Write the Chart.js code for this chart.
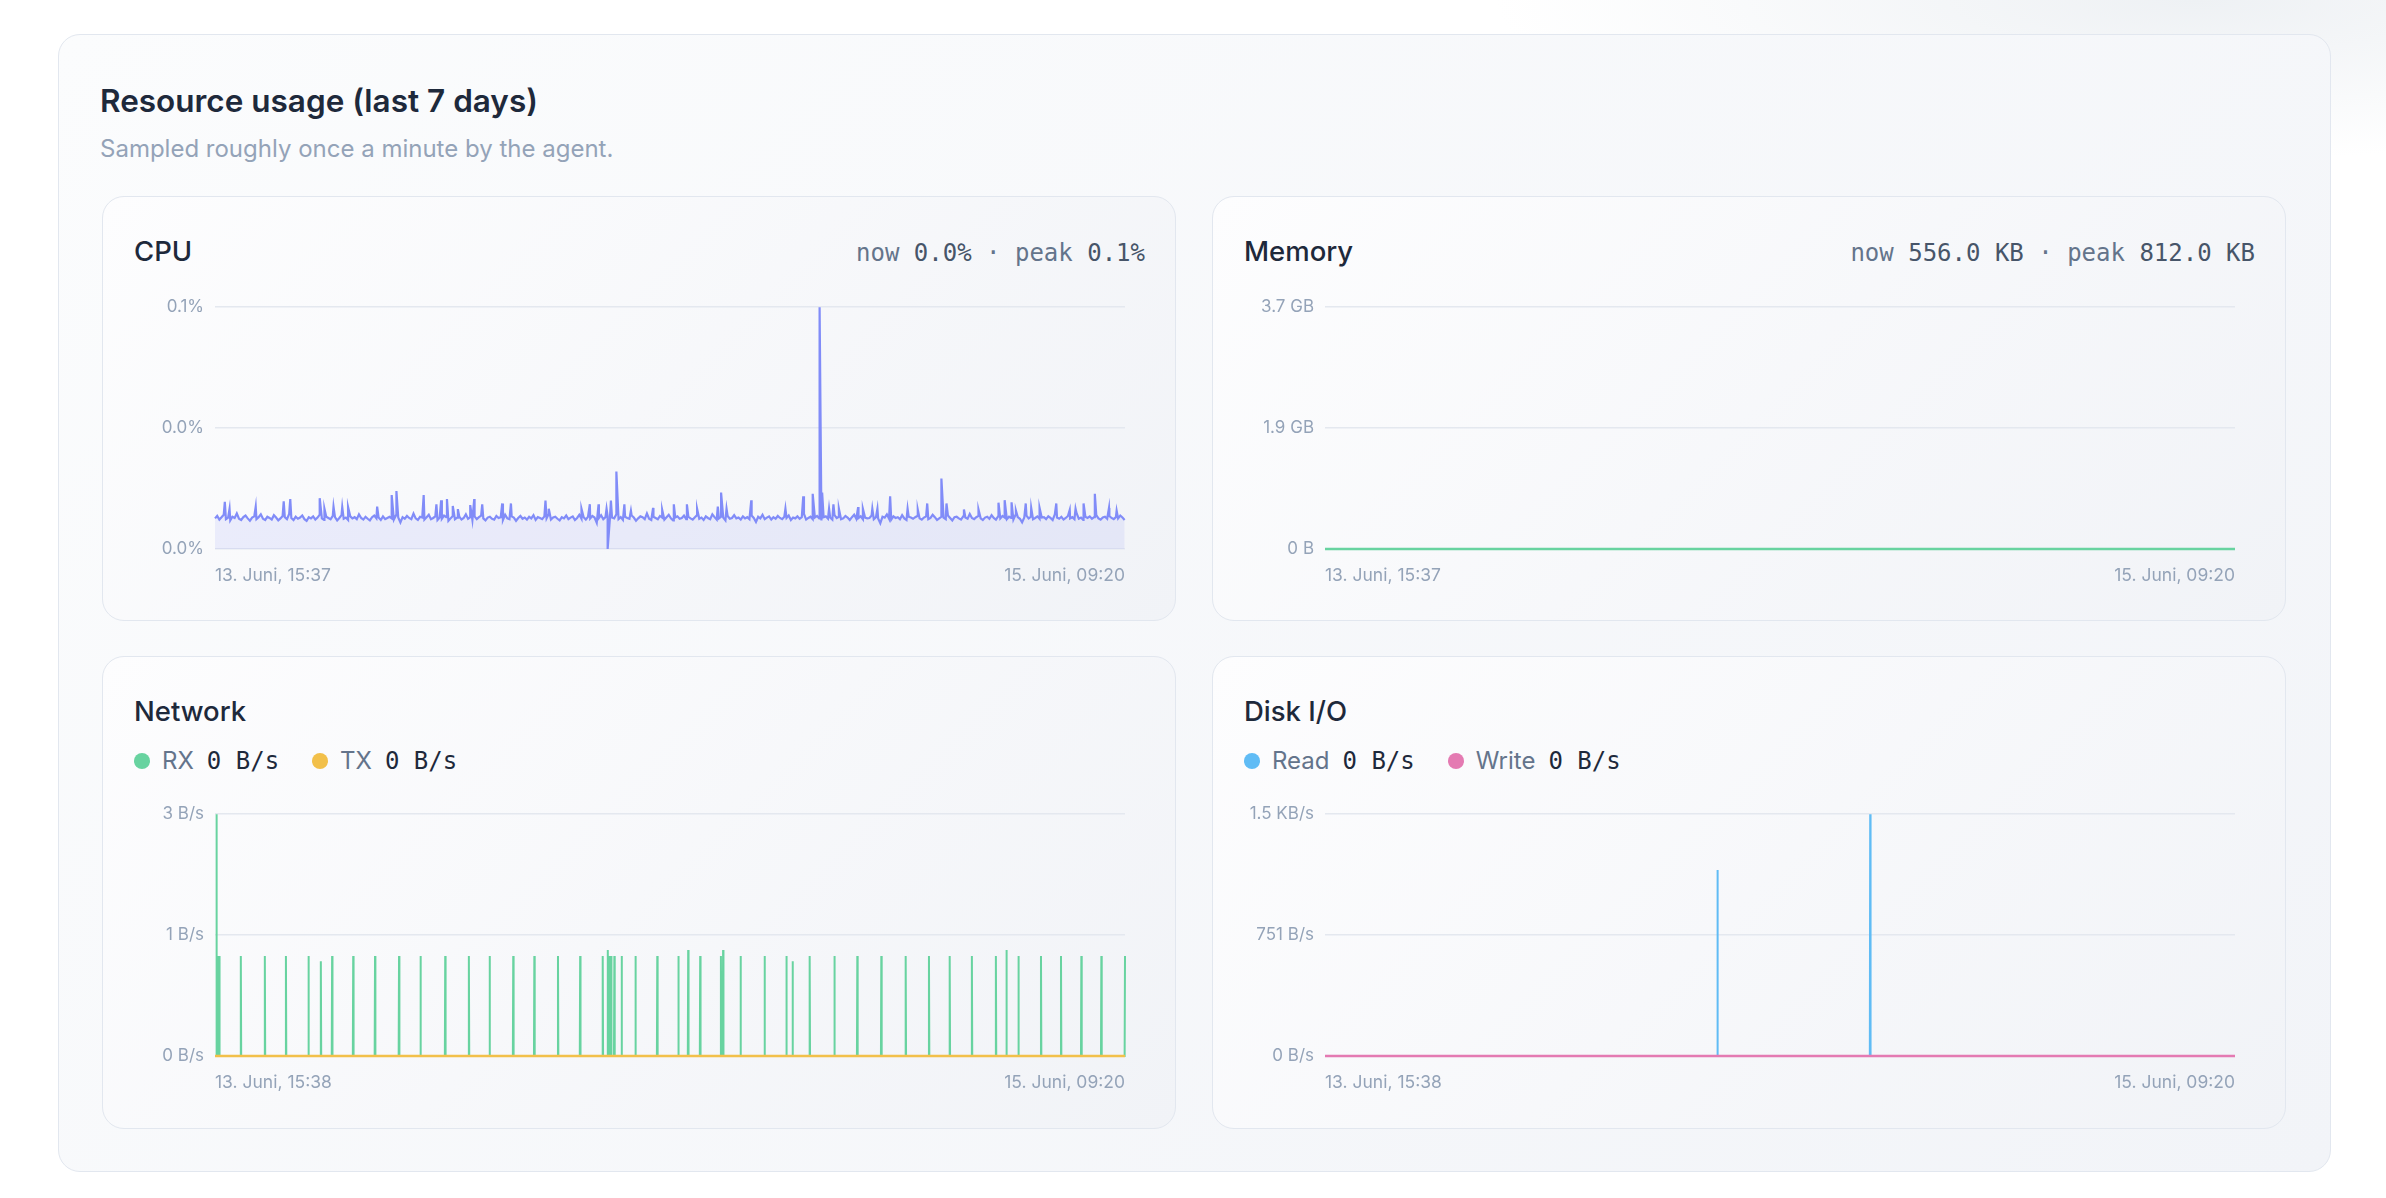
<!DOCTYPE html>
<html>
<head>
<meta charset="utf-8">
<script src="https://cdn.jsdelivr.net/npm/chart.js@4"></script>
<style>
  html, body { margin: 0; padding: 0; }
  body {
    width: 2386px; height: 1198px; position: relative; overflow: hidden;
    font-family: Inter, "Noto Sans", sans-serif;
    background: radial-gradient(ellipse 700px 160px at 92% 0%, #eef1f4 0%, rgba(255,255,255,0) 100%), #ffffff;
  }
  .card {
    position: absolute; left: 58px; top: 34px; width: 2273px; height: 1138px;
    box-sizing: border-box; border: 1.5px solid #e2e7ef; border-radius: 22px;
    background: linear-gradient(135deg, #fbfcfd 0%, #f2f4f8 100%);
  }
  .title { position: absolute; left: 100px; top: 82px; font-size: 31.5px; line-height: 38px; font-weight: 600; color: #1e293b; }
  .sub { position: absolute; left: 100px; top: 134px; font-size: 24px; line-height: 29px; color: #94a3b8; }
  .panel {
    position: absolute; width: 1074px; box-sizing: border-box;
    border: 1.5px solid #e2e7ef; border-radius: 22px;
    background: linear-gradient(135deg, #fdfdfe 0%, #f1f3f7 100%);
  }
  .head {
    position: absolute; left: 31px; right: 30px; top: 38px;
    display: flex; justify-content: space-between; align-items: baseline;
  }
  .name { font-size: 27.5px; line-height: 33px; font-weight: 500; color: #1e293b; }
  .stat { font-family: "DejaVu Sans Mono", monospace; font-size: 24px; color: #64748b; }
  .stat b { font-weight: 400; color: #475569; }
  .legend { position: absolute; left: 31px; top: 90px; display: flex; align-items: center; font-size: 24px; line-height: 28px; }
  .legend .item { display: flex; align-items: center; margin-right: 33px; }
  .dot { width: 16px; height: 16px; border-radius: 50%; margin-right: 12px; }
  .lbl { color: #64748b; }
  .val { font-family: "DejaVu Sans Mono", monospace; color: #1e293b; margin-left: 13px; }
  canvas { position: absolute; left: 31px; }
</style>
</head>
<body>
<div class="card"></div>
<div class="title">Resource usage (last 7 days)</div>
<div class="sub">Sampled roughly once a minute by the agent.</div>

<div class="panel" style="left:102px; top:196px; height:425px;">
  <div class="head"><span class="name">CPU</span><span class="stat">now <b>0.0%</b> · peak <b>0.1%</b></span></div>
  <canvas id="cpu" width="1011" height="306" style="top:89px"></canvas>
</div>

<div class="panel" style="left:1212px; top:196px; height:425px;">
  <div class="head"><span class="name">Memory</span><span class="stat">now <b>556.0 KB</b> · peak <b>812.0 KB</b></span></div>
  <canvas id="mem" width="1011" height="306" style="top:89px"></canvas>
</div>

<div class="panel" style="left:102px; top:656px; height:473px;">
  <div class="head"><span class="name">Network</span></div>
  <div class="legend">
    <span class="item"><span class="dot" style="background:#68d3a0"></span><span class="lbl">RX</span><span class="val">0 B/s</span></span>
    <span class="item"><span class="dot" style="background:#f2c04a"></span><span class="lbl">TX</span><span class="val">0 B/s</span></span>
  </div>
  <canvas id="net" width="1011" height="306" style="top:136px"></canvas>
</div>

<div class="panel" style="left:1212px; top:656px; height:473px;">
  <div class="head"><span class="name">Disk I/O</span></div>
  <div class="legend">
    <span class="item"><span class="dot" style="background:#60bcf5"></span><span class="lbl">Read</span><span class="val">0 B/s</span></span>
    <span class="item"><span class="dot" style="background:#e47ab2"></span><span class="lbl">Write</span><span class="val">0 B/s</span></span>
  </div>
  <canvas id="disk" width="1011" height="306" style="top:136px"></canvas>
</div>

<script>
// time axis is minutes since the first sample
const cpuSpanMin = 2503;   // 13. Juni 15:37 -> 15. Juni 09:20
const ioSpanMin = 2502;    // 13. Juni 15:38 -> 15. Juni 09:20
const cpuXLabels = ['13. Juni, 15:37', '15. Juni, 09:20'];
const ioXLabels = ['13. Juni, 15:38', '15. Juni, 09:20'];

// cpu in units of 0.0001 %, one sample every 6 minutes
const cpuStep = 6;
const cpuNoise = [
  76,82,73,79,85,74,78,71,80,77,88,75,72,79,83,76,70,78,81,74,
  79,86,75,72,80,77,73,84,78,71,76,82,79,74,87,77,72,80,75,78,
  83,74,70,79,76,81,73,78,85,76,72,80,77,74,82,79,71,77,84,75,
  78,72,81,76,79,74,86,77,73,80,75,71,79,83,76,78,72,81,74,77,
  80,76,73,84,78,66,79,75,82,77,74,88,76,72,80,78,73,79,85,74,
  77,81,72,78,75,83,79,70,76,82,74,78,80,73,77,86,75,79,72,81,
  74,79,83,76,71,78,80,75,73,82,77,79,72,85,76,74,81,78,70,77,
  82,75,78,73,80,76,84,72,79,77,74,81,76,87,73,78,80,75,71,79,
  76,83,74,78,81,72,77,85,75,79,73,80,76,82,78,65,77,84,74,79,
  81,73,78,76,86,74,79,72,80,77,75,83,78,70,76,81,79,74,88,75,
  72,80,77,74,82,78,73,79,85,76,71,78,81,75,77,83,74,80,76,73,
  79,84,75,78,72,81,77,74,86,79,73,76,80,78,71,82,75,77,84,76,
  78,73,81,76,79,74,83,77,67,80,76,85,74,78,81,73,79,75,82,77,
  74,80,77,83,72,78,76,81,75,79,87,73,77,80,74,78,82,76,71,79,
  81,75,78,73,84,77,80,74,76,82,78,72,79,85,75,77,81,74,78,76,
  77,83,74,79,76,64,80,78,86,75,73,81,77,79,74,84,76,72,80,78,
  75,79,82,76,73,78,81,74,77,85,79,72,76,80,78,74,83,77,71,79,
  80,76,73,81,78,75,87,77,74,79,82,76,72,78,80,75,84,77,73,81,
  76,82,78,74,80,77,73,85,79,75,66,78,83,76,80,74,77,81,75,78,
  79,74,81,77,72,86,78,75,80,73,77,82,76,79,74,88,75,78,72,80,
  77,81,75,79,84,76,73,78,80,75,82,77,74,79,76,83,78,72
];
const cpuSpikeAt = [
  27, 40, 112, 189, 207, 288, 301, 326, 350, 366, 446, 486, 499, 574, 609, 622, 638, 654, 668,
  702, 713, 735, 790, 814, 909, 918, 1008, 1031, 1055, 1077, 1080, 1089, 1104, 1126, 1144,
  1205, 1230, 1262, 1298, 1326, 1383, 1392, 1407, 1475, 1569, 1618, 1644, 1663, 1670, 1689,
  1701, 1716, 1769, 1782, 1808, 1822, 1857, 1905, 1933, 1959, 1998, 2012, 2060, 2100, 2155,
  2172, 2191, 2203, 2230, 2245, 2268, 2314, 2351, 2367, 2389, 2420, 2459, 2480
];
const cpuSpikeVal = [
  117, 100, 105, 118, 124, 126, 100, 105, 104, 104, 105, 134, 144, 134, 111, 121, 124, 107, 99,
  109, 124, 111, 113, 113, 120, 100, 100, 111, 111, 100, 0, 120, 192, 111, 95,
  102, 97, 111, 111, 100, 105, 140, 100, 121, 100, 131, 137, 600, 140, 100,
  111, 100, 104, 100, 100, 100, 131, 100, 98, 113, 175, 113, 98, 98, 115,
  121, 116, 95, 113, 102, 102, 113, 97, 100, 113, 137, 102, 95
];
const cpuMax = 600;
const cpuYLabels = ['0.0%', '0.0%', '0.1%'];

// memory in KB, evenly spread over the window
const memKB = [612, 598, 640, 575, 590, 812, 604, 566, 580, 622, 571, 588, 596, 560, 574, 602, 585, 569, 593, 578, 562, 581, 570, 556];
const memMaxKB = 3.72 * 1024 * 1024;
const memYLabels = ['0 B', '1.9 GB', '3.7 GB'];

// network in B/s, idle except for short bursts
const rxAt = [
  4, 8, 12, 71, 137, 195, 257, 291, 322, 380, 440, 506, 565, 633, 698, 755, 820, 878, 943,
  1004, 1066, 1080, 1085, 1089, 1098, 1118, 1156, 1216, 1274, 1301, 1334, 1391, 1397, 1445,
  1511, 1571, 1588, 1635, 1703, 1766, 1832, 1899, 1963, 2020, 2081, 2147, 2176, 2209, 2271,
  2326, 2382, 2437, 2502
];
const rxVal = [
  2.83, 1.17, 1.17, 1.17, 1.17, 1.17, 1.17, 1.11, 1.17, 1.17, 1.17, 1.17, 1.17, 1.17, 1.17, 1.17, 1.17, 1.17, 1.17,
  1.17, 1.17, 1.24, 1.17, 1.17, 1.17, 1.17, 1.17, 1.17, 1.17, 1.24, 1.17, 1.17, 1.24, 1.17,
  1.17, 1.17, 1.11, 1.17, 1.17, 1.17, 1.17, 1.17, 1.17, 1.17, 1.17, 1.17, 1.24, 1.17, 1.17,
  1.17, 1.17, 1.17, 1.17
];
const txBps = [0, 0, 0, 0, 0, 0, 0, 0];
const netMax = 2.83;
const netYLabels = ['0 B/s', '1 B/s', '3 B/s'];

// disk in B/s
const readAt = [1079, 1499];
const readVal = [1155, 1502];
const writeBps = [0, 0, 0, 0, 0, 0, 0, 0];
const diskMax = 1502;
const diskYLabels = ['0 B/s', '751 B/s', '1.5 KB/s'];

Chart.defaults.font.family = 'Inter';

// evenly spaced samples -> {x, y}
function spread(values, span) {
  return values.map((v, i) => ({ x: i * span / (values.length - 1), y: v }));
}

// isolated bursts on an otherwise zero line
function bursts(at, vals, span) {
  const pts = [{ x: 0, y: 0 }];
  at.forEach((m, i) => {
    if (m > 0) pts.push({ x: m - 1, y: 0 });
    pts.push({ x: m, y: vals[i] });
    if (m < span) pts.push({ x: m + 1, y: 0 });
  });
  if (at[at.length - 1] < span) pts.push({ x: span, y: 0 });
  return pts.sort((a, b) => a.x - b.x);
}

function lineChart(id, datasets, xMax, xLabels, yMax, yLabels) {
  datasets.forEach(ds => { ds.clip = false; });
  return new Chart(document.getElementById(id), {
    type: 'line',
    data: { datasets: datasets },
    options: {
      responsive: false,
      animation: false,
      layout: { padding: { top: 16, right: 20, left: 0, bottom: 0 } },
      plugins: { legend: { display: false }, tooltip: { enabled: false } },
      elements: { point: { radius: 0 }, line: { borderWidth: 2, tension: 0 } },
      scales: {
        x: {
          type: 'linear', min: 0, max: xMax,
          grid: { display: false, drawTicks: false },
          border: { display: false },
          afterBuildTicks: ax => { ax.ticks = [{ value: 0 }, { value: xMax }]; },
          afterFit: ax => { ax.height = 43; },
          ticks: {
            align: 'inner', maxRotation: 0, autoSkip: false, padding: 16,
            color: '#94a3b8', font: { size: 17.5 },
            callback: (v, i) => xLabels[i]
          }
        },
        y: {
          min: 0, max: yMax,
          grid: { color: '#e4e8ef', lineWidth: 1.5, drawTicks: false },
          border: { display: false },
          afterBuildTicks: ax => { ax.ticks = [0, yMax / 2, yMax].map(v => ({ value: v })); },
          afterFit: ax => { ax.width = 81; },
          ticks: {
            padding: 11, color: '#94a3b8', font: { size: 17 },
            callback: (v, i) => yLabels[i]
          }
        }
      }
    }
  });
}

const cpuPoints = cpuNoise.map((v, i) => ({ x: i * cpuStep, y: v }))
  .concat(cpuSpikeAt.map((m, i) => ({ x: m, y: cpuSpikeVal[i] })))
  .sort((a, b) => a.x - b.x);

lineChart('cpu', [{
  data: cpuPoints, borderColor: '#818cf8', borderWidth: 2.2,
  backgroundColor: 'rgba(129,140,248,0.12)', fill: 'origin'
}], cpuSpanMin, cpuXLabels, cpuMax, cpuYLabels);

lineChart('mem', [{
  data: spread(memKB, cpuSpanMin), borderColor: '#68d3a0', borderWidth: 2.5
}], cpuSpanMin, cpuXLabels, memMaxKB, memYLabels);

lineChart('net', [
  { data: spread(txBps, ioSpanMin), borderColor: '#f2c04a', borderWidth: 2.5 },
  { data: bursts(rxAt, rxVal, ioSpanMin), borderColor: '#68d3a0' }
], ioSpanMin, ioXLabels, netMax, netYLabels);

lineChart('disk', [
  { data: spread(writeBps, ioSpanMin), borderColor: '#e47ab2', borderWidth: 2.5 },
  { data: bursts(readAt, readVal, ioSpanMin), borderColor: '#60bcf5' }
], ioSpanMin, ioXLabels, diskMax, diskYLabels);
</script>
</body>
</html>
